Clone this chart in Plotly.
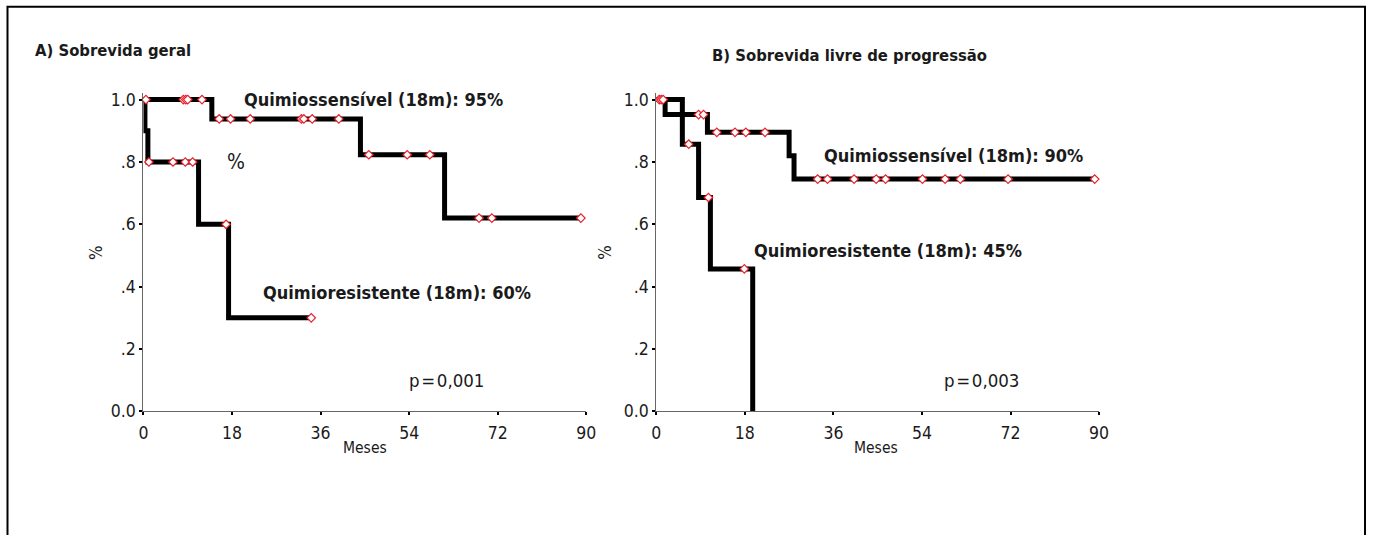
import plotly.graph_objects as go

# ---------------- data (months, survival proportion) ----------------
# Panel A: Sobrevida geral
A_sens_t = [0, 13.9, 44.1, 61.2, 88.9]
A_sens_s = [1.0, 0.938, 0.823, 0.62, 0.62]
A_sens_cens = [0.5, 8.1, 8.6, 9.0, 11.9, 15.4, 17.7, 21.7, 32.1, 32.6, 34.3,
               39.7, 45.8, 53.6, 58.2, 68.2, 70.8, 88.9]

A_res_t = [0, 0.3, 0.9, 11.2, 17.3, 34.1]
A_res_s = [1.0, 0.9, 0.8, 0.6, 0.3, 0.3]
A_res_cens = [1.1, 6.0, 8.5, 10.0, 16.8, 34.1]

# Panel B: Sobrevida livre de progressao
B_sens_t = [0, 1.8, 10.4, 27.0, 28.0, 89.1]
B_sens_s = [1.0, 0.952, 0.895, 0.82, 0.745, 0.745]
B_sens_cens = [0.6, 1.0, 8.6, 9.6, 12.3, 16.0, 18.2, 22.1, 32.8, 34.8, 40.2,
               44.7, 46.6, 54.1, 58.7, 61.8, 71.5, 89.1]

B_res_t = [0, 5.3, 8.6, 11.0, 19.6]
B_res_s = [1.0, 0.857, 0.686, 0.457, 0.0]
B_res_cens = [1.4, 6.6, 10.6, 17.9]

x_ticks = [0, 18, 36, 54, 72, 90]
y_ticks = [0, 0.2, 0.4, 0.6, 0.8, 1.0]
y_ticktext = ["0.0", ".2", ".4", ".6", ".8", "1.0"]

FONT = "DejaVu Sans Condensed, Liberation Sans Narrow, sans-serif"
FW, FH = 1382, 545
# calibration of the page -> picture placement
OX, OY, SX, SY = 5.5, 2.3, 0.9895, 0.977


def step_at(ts, ss, t):
    val = ss[0]
    for ti, si in zip(ts, ss):
        if ti <= t:
            val = si
    return val


def px(x):
    return ((x - OX) / SX) / FW


def py(y):
    return 1 - ((y - OY) / SY) / FH


fig = go.Figure()

panels = [
    ("x", "y", [(A_sens_t, A_sens_s, A_sens_cens), (A_res_t, A_res_s, A_res_cens)]),
    ("x2", "y2", [(B_sens_t, B_sens_s, B_sens_cens), (B_res_t, B_res_s, B_res_cens)]),
]

for xa, ya, curves in panels:
    for ts, ss, cens in curves:
        fig.add_trace(go.Scatter(
            x=ts, y=ss, mode="lines", line=dict(color="black", width=5, shape="hv"),
            xaxis=xa, yaxis=ya, showlegend=False, hoverinfo="skip"))
    for ts, ss, cens in curves:
        cy = []
        for c in cens:
            v = step_at(ts, ss, c)
            if c in ts and ts.index(c) > 0 and ss[ts.index(c)] != ss[ts.index(c) - 1]:
                v = ss[ts.index(c) - 1]
            cy.append(v)
        fig.add_trace(go.Scatter(
            x=cens, y=cy, mode="markers",
            marker=dict(symbol="diamond", size=6.5, color="white",
                        line=dict(color="#e8202a", width=1.2)),
            xaxis=xa, yaxis=ya, showlegend=False, cliponaxis=False, hoverinfo="skip"))

ydom = [py(411), py(411 - 312 * 1.02)]
axis_common = dict(showgrid=False, zeroline=False, showline=True, linecolor="#666666",
                   linewidth=1.2, ticks="outside", ticklen=3, tickwidth=2, tickcolor="black",
                   tickfont=dict(family=FONT, size=17.5, color="#1a1a1a"))

fig.update_layout(
    width=FW, height=FH, margin=dict(l=0, r=0, t=0, b=0), autosize=False,
    paper_bgcolor="white", plot_bgcolor="white",
    xaxis=dict(domain=[px(144), px(587)], range=[0, 90], tickvals=x_ticks,
               anchor="y", ticklabelstandoff=3, **axis_common),
    yaxis=dict(domain=ydom, range=[0, 1.02], tickvals=y_ticks, ticktext=y_ticktext,
               anchor="x", **axis_common),
    xaxis2=dict(domain=[px(657), px(1100)], range=[0, 90], tickvals=x_ticks,
                anchor="y2", ticklabelstandoff=3, **axis_common),
    yaxis2=dict(domain=ydom, range=[0, 1.02], tickvals=y_ticks, ticktext=y_ticktext,
                anchor="x2", **axis_common),
)


def ann(text, x, y, size, bold=False, angle=0, xanchor="left"):
    fig.add_annotation(
        text=("<b>%s</b>" % text) if bold else text, x=px(x), y=py(y),
        xref="paper", yref="paper", showarrow=False, xanchor=xanchor, yanchor="middle",
        textangle=angle, font=dict(family=FONT, size=size, color="#1a1a1a"))


ann("A) Sobrevida geral", 34, 50, 16.5, bold=True)
ann("B) Sobrevida livre de progressão", 711, 55, 16.5, bold=True)
ann("Quimiossensível (18m): 95%", 243, 99, 18, bold=True)
ann("%", 226, 161, 21)
ann("Quimioresistente (18m): 60%", 262, 292, 18, bold=True)
ann("p\u200a=\u200a0,001", 408, 380, 18.5)
ann("Quimiossensível (18m): 90%", 823, 155, 18, bold=True)
ann("Quimioresistente (18m): 45%", 753, 250, 18, bold=True)
ann("p\u200a=\u200a0,003", 943, 380, 18.5)
ann("%", 97, 252, 17, angle=-90, xanchor="center")
ann("%", 606, 252, 17, angle=-90, xanchor="center")
ann("Meses", 366, 448, 15.5, xanchor="center")
ann("Meses", 877, 448, 15.5, xanchor="center")

fig.add_shape(type="rect", xref="paper", yref="paper",
              x0=px(8), x1=px(1366), y0=py(580), y1=py(6),
              line=dict(color="black", width=2), fillcolor="rgba(0,0,0,0)")

fig.write_html("out.html", config={"responsive": False, "displayModeBar": False},
               post_script="document.body.style.margin='0';document.body.style.overflow='hidden';")
